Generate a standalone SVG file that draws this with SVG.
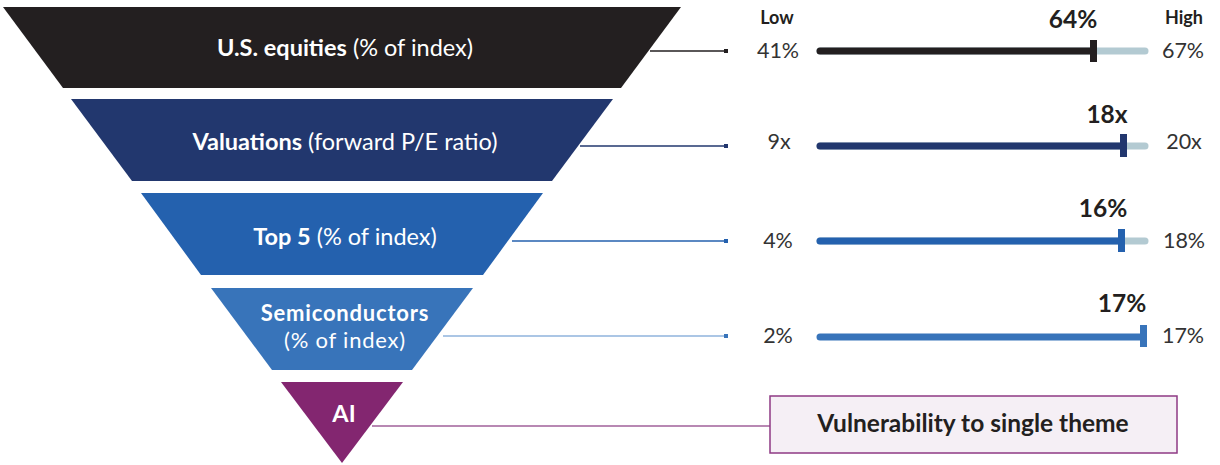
<svg xmlns="http://www.w3.org/2000/svg" width="1220" height="465" viewBox="0 0 1220 465">
<style>
.ft{font-family:Lato,"Open Sans","Liberation Sans",sans-serif;fill:#fff;font-size:23.5px;text-anchor:middle}
.sm{font-size:22px;letter-spacing:0.8px}
.b{font-weight:700}
.r{font-weight:400}
.num{font-family:Lato,"Open Sans","Liberation Sans",sans-serif;font-size:21.5px;fill:#333;text-anchor:middle}
.hd{font-family:Lato,"Open Sans","Liberation Sans",sans-serif;font-size:18px;font-weight:700;fill:#231f20;text-anchor:middle}
.val{font-family:Lato,"Open Sans","Liberation Sans",sans-serif;font-size:24.5px;font-weight:700;fill:#231f20;text-anchor:middle}
.track{stroke:#b3cad2;stroke-width:7;stroke-linecap:round;fill:none}
.fill{stroke-width:7;stroke-linecap:round;fill:none}
.conn{stroke-width:1.3;fill:none}
</style>
<g id="connectors">
<line class="conn" x1="650" y1="51" x2="726" y2="51" stroke="#231f20"/>
<rect x="724" y="49" width="4" height="4" fill="#231f20"/>
<line class="conn" x1="580" y1="146" x2="726" y2="146" stroke="#22376e"/>
<rect x="724" y="144" width="4" height="4" fill="#22376e"/>
<line class="conn" x1="512" y1="241" x2="726" y2="241" stroke="#2461ae"/>
<rect x="724" y="239" width="4" height="4" fill="#2461ae"/>
<line class="conn" x1="443" y1="336" x2="726" y2="336" stroke="#8fb3dc"/>
<rect x="724" y="334" width="4" height="4" fill="#3874ba"/>
<line class="conn" x1="372" y1="426" x2="770" y2="426" stroke="#a0609a"/>
</g>
<g id="equities">
<polygon points="3,7 681,7 621,88 63,88" fill="#231f20"/>
<text class="ft" x="345" y="56"><tspan class="b">U.S. equities</tspan><tspan class="r"> (% of index)</tspan></text>
</g>
<g id="valuations">
<polygon points="71,99 613,99 552,181 132,181" fill="#22376e"/>
<text class="ft" x="345" y="150"><tspan class="b">Valuations</tspan><tspan class="r"> (forward P/E ratio)</tspan></text>
</g>
<g id="top5">
<polygon points="141,193 543,193 483,275 201,275" fill="#2461ae"/>
<text class="ft" x="345" y="245"><tspan class="b">Top 5</tspan><tspan class="r"> (% of index)</tspan></text>
</g>
<g id="semis">
<polygon points="211,288 473,288 412,370 272,370" fill="#3874ba"/>
<text class="ft sm b" x="345" y="321">Semiconductors</text>
<text class="ft sm r" x="345" y="348">(% of index)</text>
</g>
<g id="ai">
<polygon points="281,382 403,382 342,463" fill="#832670"/>
<text class="ft b" x="344" y="422">AI</text>
</g>
<g id="scale-headers">
<text class="hd" x="777" y="24">Low</text>
<text class="hd" x="1184" y="24">High</text>
</g>
<g id="bar-equities">
<text class="num" x="778" y="58">41%</text>
<line class="track" x1="820" y1="51" x2="1145" y2="51"/>
<line class="fill" x1="820" y1="51" x2="1093" y2="51" stroke="#231f20"/>
<rect x="1090" y="40" width="7" height="22" fill="#231f20"/>
<text class="val" x="1073" y="28">64%</text>
<text class="num" x="1183" y="58">67%</text>
</g>
<g id="bar-valuations">
<text class="num" x="779" y="149">9x</text>
<line class="track" x1="820" y1="146" x2="1145" y2="146"/>
<line class="fill" x1="820" y1="146" x2="1123" y2="146" stroke="#22376e"/>
<rect x="1120" y="134" width="7" height="23" fill="#22376e"/>
<text class="val" x="1107" y="123">18x</text>
<text class="num" x="1184" y="149">20x</text>
</g>
<g id="bar-top5">
<text class="num" x="778" y="248">4%</text>
<line class="track" x1="820" y1="241" x2="1145" y2="241"/>
<line class="fill" x1="820" y1="241" x2="1121" y2="241" stroke="#2461ae"/>
<rect x="1118" y="229" width="7" height="23" fill="#2461ae"/>
<text class="val" x="1103" y="217">16%</text>
<text class="num" x="1184" y="248">18%</text>
</g>
<g id="bar-semis">
<text class="num" x="778" y="343">2%</text>
<line class="fill" x1="820" y1="337" x2="1143" y2="337" stroke="#3874ba"/>
<rect x="1140" y="325" width="7" height="22" fill="#3874ba"/>
<text class="val" x="1122" y="312">17%</text>
<text class="num" x="1183" y="343">17%</text>
</g>
<g id="theme-box">
<rect x="770" y="396" width="407" height="57" fill="#f5eff5" stroke="#8e3a84" stroke-width="1.5"/>
<text x="973" y="432" font-family="Lato,'Open Sans','Liberation Sans',sans-serif" font-size="24.5" font-weight="700" fill="#231f20" text-anchor="middle">Vulnerability to single theme</text>
</g>
</svg>
